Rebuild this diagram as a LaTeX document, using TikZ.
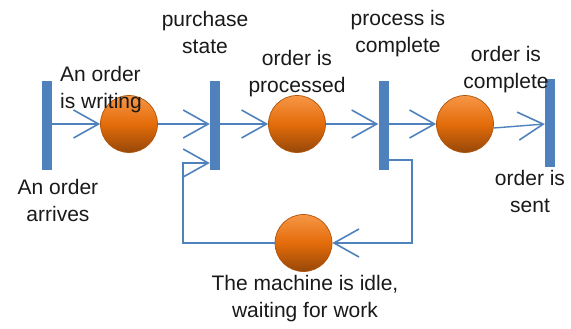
\documentclass[tikz,border=0pt]{standalone}
\usepackage{fontspec}
\setmainfont{Liberation Sans}
\usetikzlibrary{arrows.meta}
\definecolor{barblue}{RGB}{79,129,189}
\definecolor{otop}{RGB}{246,150,70}
\definecolor{omid}{RGB}{228,108,10}
\definecolor{obot}{RGB}{150,72,8}
\definecolor{oedge}{RGB}{175,85,12}
\tikzset{
  bar/.style={rectangle, fill=barblue, inner sep=0pt, minimum width=10pt, minimum height=89pt},
  place/.style={circle, inner sep=0pt, minimum size=57pt, draw=oedge, line width=0.7pt,
    top color=otop, bottom color=obot, middle color=omid},
  lbl/.style={inner sep=0pt, align=center, font=\fontsize{21}{27}\selectfont, text=black!90},
  flow/.style={draw=barblue, line width=1.4pt, -{Straight Barb[length=25pt,width=28pt,line width=1.6pt]}},
  link/.style={draw=barblue, line width=1.4pt}
}
\begin{document}
\begin{tikzpicture}[x=1pt,y=-1pt]
\useasboundingbox (0,0) rectangle (571,329);
% bars
\node[bar] (b1) at (47,125.5) {};
\node[bar] (b2) at (215,125.5) {};
\node[bar] (b3) at (383.5,125.5) {};
\node[bar, minimum height=88pt] (b4) at (550,123) {};
% places
\node[place] (c1) at (129,124) {};
\node[place] (c2) at (297,124) {};
\node[place] (c3) at (465,124) {};
\node[place] (c4) at (303.5,243) {};
% loop coordinates
\coordinate (l1) at (412,160);
\coordinate (l2) at (183,163);
% connectors
\draw[flow] (b1.east |- c1.west) -- (c1.west);
\draw[flow] (c1.east) -- (b2.west |- c1.east);
\draw[flow] (b2.east |- c2.west) -- (c2.west);
\draw[flow] (c2.east) -- (b3.west |- c2.east);
\draw[flow] (b3.east |- c3.west) -- (c3.west);
\draw[flow] ([yshift=-4pt]c3.east) -- (b4.west |- c3.east);
\draw[flow] (b3.east |- l1) -- (l1) |- (c4.east);
\draw[flow] (c4.west) -| (l2) -- (b2.west |- l2);
% labels
\node[lbl, align=left, anchor=west] (t1) at (60,90) {An order\\is writing};
\node[lbl] (t2) at (205,32) {purchase\\state};
\node[lbl] (t3) at (297,74) {order is\\processed};
\node[lbl] (t4) at (398,33.5) {process is\\complete};
\node[lbl] (t5) at (506,69.5) {order is\\complete};
\node[lbl] (t6) at (58,200) {An order\\arrives};
\node[lbl] (t7) at (530,191) {order is\\sent};
\node[lbl] (t8) at (305,298.5) {The machine is idle,\\waiting for work};
\end{tikzpicture}
\end{document}
